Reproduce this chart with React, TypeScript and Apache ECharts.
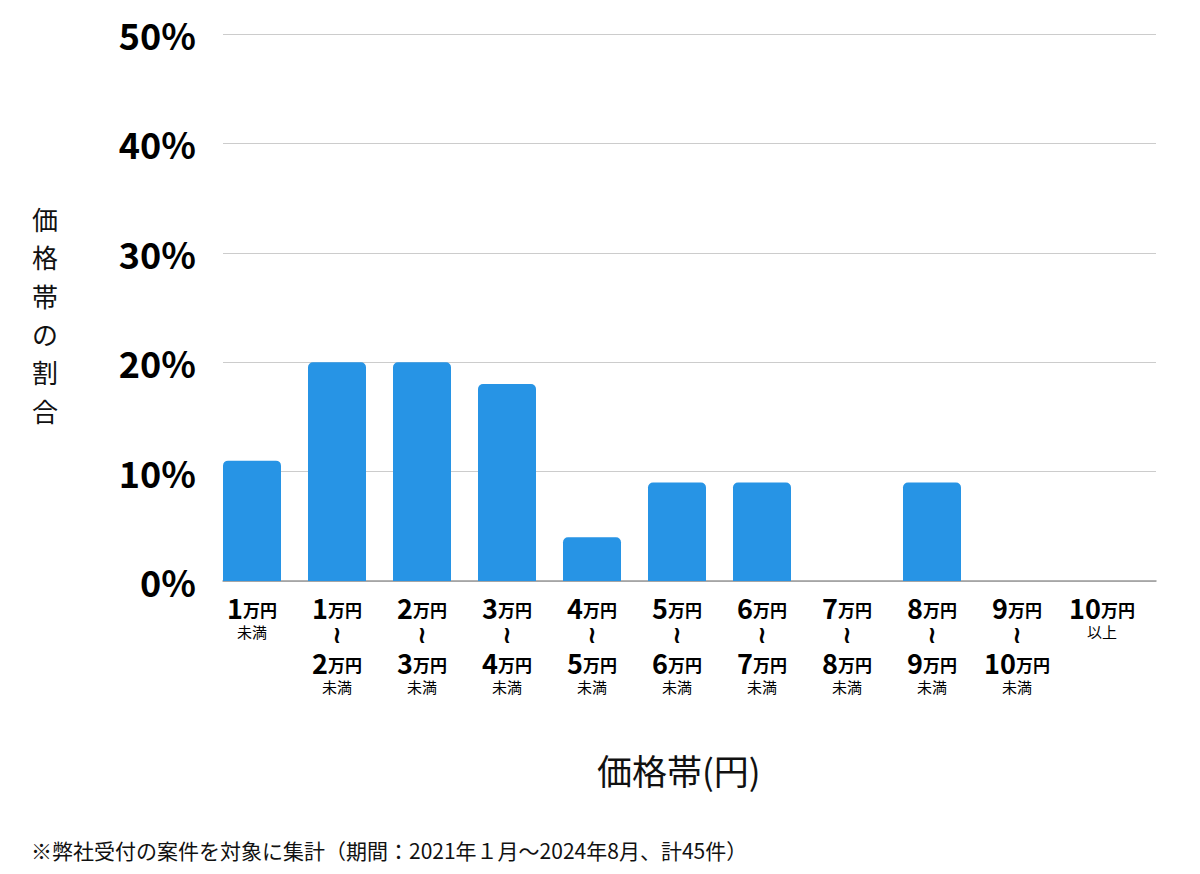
import React, { useEffect, useRef } from "react";
import * as echarts from "echarts";

const rangeFrom = ["1", "1", "2", "3", "4", "5", "6", "7", "8", "9", "10"];
const rangeTo = ["", "2", "3", "4", "5", "6", "7", "8", "9", "10", ""];
const rangeSuffix = ["未満", "未満", "未満", "未満", "未満", "未満", "未満", "未満", "未満", "未満", "以上"];
const shares = [11, 20, 20, 18, 4, 9, 9, 0, 9, 0, 0];
const yTicks = [0, 10, 20, 30, 40, 50];

const FONT = "'Noto Sans CJK JP', 'Noto Sans', sans-serif";

function labelText(i: number): string {
  if (rangeTo[i] === "") {
    return `{n|${rangeFrom[i]}}{u|万円}\n{s|${rangeSuffix[i]}}`;
  }
  return `{n|${rangeFrom[i]}}{u|万円}\n{t|≀}\n{n|${rangeTo[i]}}{u|万円}\n{s|${rangeSuffix[i]}}`;
}

export default function App() {
  const ref = useRef<HTMLDivElement>(null);
  useEffect(() => {
    if (!ref.current) return;
    const chart = echarts.init(ref.current, null, { renderer: "svg" });
    const cats = rangeFrom.map((_, i) => String(i));
    chart.setOption({
      animation: false,
      backgroundColor: "#ffffff",
      grid: [
        { left: 223, right: 44, top: 34, bottom: 293 },
        { left: 209.5, right: 55.5, top: 34, bottom: 293 },
      ],
      xAxis: [
        {
          gridIndex: 0,
          type: "value",
          min: 0,
          max: 1,
          axisLine: { show: true, lineStyle: { color: "#999999", width: 1.5 } },
          axisTick: { show: false },
          axisLabel: { show: false },
          splitLine: { show: false },
        },
        {
          gridIndex: 1,
          type: "category",
          data: cats,
          axisLine: { show: false },
          axisTick: { show: false },
          axisLabel: {
            interval: 0,
            margin: 12,
            formatter: (_v: string, idx: number) => labelText(idx),
            rich: {
              n: { fontFamily: FONT, fontWeight: "bold", fontSize: 27, lineHeight: 29, color: "#000" },
              u: { fontFamily: FONT, fontWeight: "bold", fontSize: 17, lineHeight: 29, color: "#000", padding: [4, 0, 0, 0] },
              t: { fontFamily: "'DejaVu Sans', sans-serif", fontWeight: "bold", fontSize: 24, lineHeight: 26, color: "#000" },
              s: { fontFamily: FONT, fontSize: 15, lineHeight: 18, color: "#000" },
            },
          },
        },
      ],
      yAxis: [
        {
          gridIndex: 0,
          type: "value",
          min: 0,
          max: 50,
          interval: 10,
          axisLine: { show: false },
          axisTick: { show: false },
          splitLine: { lineStyle: { color: "#cccccc", width: 1 } },
          axisLabel: {
            margin: 27,
            formatter: (v: number) => (yTicks.includes(v) ? `${v}%` : ""),
            fontFamily: FONT,
            fontWeight: "bold",
            fontSize: 36,
            color: "#000",
          },
        },
        {
          gridIndex: 1,
          type: "value",
          min: 0,
          max: 50,
          show: false,
          splitLine: { show: false },
        },
      ],
      series: [
        {
          type: "bar",
          xAxisIndex: 1,
          yAxisIndex: 1,
          data: shares,
          barWidth: 58,
          itemStyle: { color: "#2794e5", borderRadius: [5, 5, 0, 0] },
        },
      ],
      graphic: [
        {
          type: "text",
          left: 32,
          top: 199,
          style: {
            text: "価\n格\n帯\nの\n割\n合",
            fontFamily: FONT,
            fontSize: 26,
            lineHeight: 38.4,
            fill: "#111",
            align: "center",
          },
        },
        {
          type: "text",
          left: 597,
          top: 752,
          style: {
            text: "価格帯(円)",
            fontFamily: FONT,
            fontSize: 35,
            fill: "#111",
          },
        },
        {
          type: "text",
          left: 31,
          top: 839,
          style: {
            text: "※弊社受付の案件を対象に集計（期間：2021年１月〜2024年8月、計45件）",
            fontFamily: FONT,
            fontSize: 21,
            fill: "#111",
          },
        },
      ],
    });
    return () => chart.dispose();
  }, []);
  return (
    <div
      ref={ref}
      style={{ position: "fixed", left: 0, top: 0, width: 1200, height: 874, background: "#fff" }}
    />
  );
}
